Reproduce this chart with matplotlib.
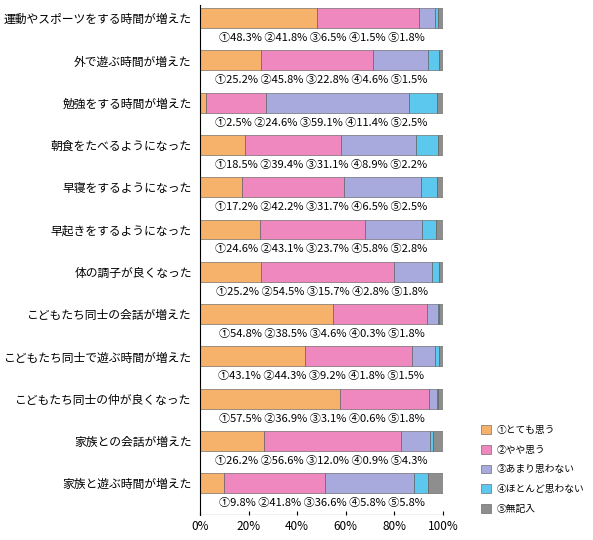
import matplotlib
matplotlib.use("Agg")
import matplotlib.pyplot as plt
import numpy as np
from matplotlib.patches import Patch

plt.rcParams['font.family'] = ['Noto Sans CJK JP', 'DejaVu Sans']

categories = ["運動やスポーツをする時間が増えた","外で遊ぶ時間が増えた","勉強をする時間が増えた",
              "朝食をたべるようになった","早寝をするようになった","早起きをするようになった",
              "体の調子が良くなった","こどもたち同士の会話が増えた","こどもたち同士で遊ぶ時間が増えた",
              "こどもたち同士の仲が良くなった","家族との会話が増えた","家族と遊ぶ時間が増えた"]
s1 = [48.3,25.2,2.5,18.5,17.2,24.6,25.2,54.8,43.1,57.5,26.2,9.8]
s2 = [41.8,45.8,24.6,39.4,42.2,43.1,54.5,38.5,44.3,36.9,56.6,41.8]
s3 = [6.5,22.8,59.1,31.1,31.7,23.7,15.7,4.6,9.2,3.1,12.0,36.6]
s4 = [1.5,4.6,11.4,8.9,6.5,5.8,2.8,0.3,1.8,0.6,0.9,5.8]
s5 = [1.8,1.5,2.5,2.2,2.5,2.8,1.8,1.8,1.5,1.8,4.3,5.8]
legend_labels = ["①とても思う","②やや思う","③あまり思わない","④ほとんど思わない","⑤無記入"]
colors = ["#F6B26B","#EE88BE","#A8AADD","#5CC8EE","#8E8E8E"]

fig = plt.figure(figsize=(5.93,5.40), dpi=100)
ax = fig.add_axes([200/593, 25/540, 243/593, 510/540])
series = [s1,s2,s3,s4,s5]
y = np.arange(len(categories))
left = np.zeros(len(categories))
for s,c in zip(series,colors):
    ax.barh(y, s, left=left, height=0.47, color=c, edgecolor="#555555", linewidth=0.4)
    left += np.array(s)
for i in range(len(categories)):
    txt = "".join(f"{m}{v:.1f}% " for m,v in zip("①②③④⑤",[s[i] for s in series])).strip()
    ax.text(50, i+0.47, txt, ha="center", va="center", fontsize=8)
ax.set_ylim(11.75, -0.31)
ax.set_xlim(0,100)
ax.set_yticks(y)
ax.set_yticklabels(categories, fontsize=8.5)
ax.tick_params(axis='y', length=0, pad=6)
ax.set_xticks([0,20,40,60,80,100])
ax.set_xticklabels(["0%","20%","40%","60%","80%","100%"], fontsize=8.5)
for sp in ["top","right"]:
    ax.spines[sp].set_visible(False)
ax.spines["bottom"].set_visible(False)
ax.tick_params(axis='x', length=3, direction='in')
ax.axhline(ax.get_ylim()[0], color="black", lw=0.8)

handles = [Patch(facecolor=c, edgecolor="#555555", linewidth=0.4) for c in colors]
fig.legend(handles, legend_labels, loc="upper left", bbox_to_anchor=(474/593, 1-418/540),
           frameon=False, fontsize=7, handlelength=1.0, handleheight=1.0, labelspacing=1.0,
           handletextpad=0.6, borderpad=0.2)
fig.savefig("out.png", dpi=100)
